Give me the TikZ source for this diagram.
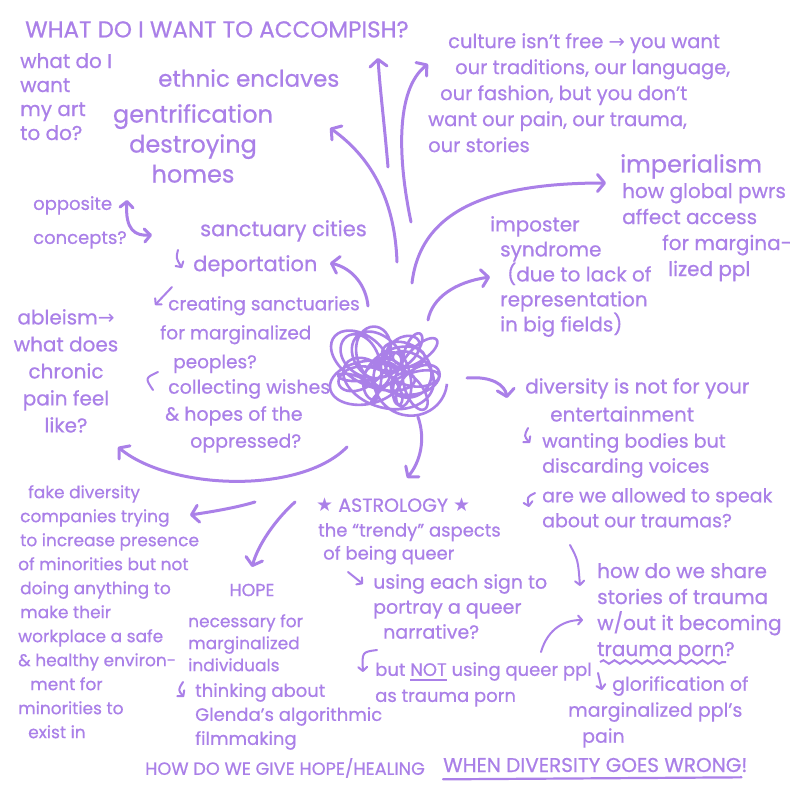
\documentclass[tikz,border=0pt]{standalone}
\usepackage{fontspec}
\setmainfont{Poppins}[FakeBold=0.6]
\newfontfamily\symfont{DejaVu Sans}
\usetikzlibrary{arrows.meta,decorations.pathmorphing,calc}
\definecolor{ink}{RGB}{170,128,232}
\newcommand\hsz[2]{\fontsize{#1}{#2}\selectfont}
\newcommand\ulbar[1]{\setbox0\hbox{#1}\rlap{\raisebox{-5pt}{\rule{\wd0}{1.8pt}}}\box0{}}
\begin{document}
\begin{tikzpicture}[x=1pt, y=-1pt,
  note/.style={text=ink, inner sep=0pt, anchor=north west, align=left},
  pen/.style={draw=ink, line width=3pt, line cap=round, line join=round, -{Straight Barb[round,length=7pt,width=17pt]}},
  tick/.style={pen, line width=2pt, -{Straight Barb[round,length=4pt,width=9pt]}}]
  \useasboundingbox[fill=white] (0,0) rectangle (800,800);
  % left column
  \node[note, font=\hsz{23}{26}] (goal) at (25,21) {WHAT DO I WANT TO ACCOMPISH?};
  \node[note, font=\hsz{20}{24}] (artq) at (20,53) {what do I\\want\\my art\\to do?};
  \node[note, font=\hsz{23}{28}] (enclave) at (158,69) {ethnic enclaves};
  \node[note, font=\hsz{24}{30}, anchor=north, align=center] (gentri) at (193,104) {gentrification\\destroying\\homes};
  \node[note, font=\hsz{18}{34}] (opp) at (33,196) {opposite\\concepts?};
  \node[note, font=\hsz{21}{25}] (sanct) at (200,220) {sanctuary cities};
  \node[note, font=\hsz{21}{25}] (deport) at (193,255) {deportation};
  \node[note, font=\hsz{18.5}{29}] (create) at (160,296) {\hspace*{8pt}creating sanctuaries\\for marginalized\\\hspace*{13pt}peoples?};
  \node[note, font=\hsz{19}{27}] (wish) at (165,379) {\hspace*{3pt}collecting wishes\\\& hopes of the\\\hspace*{25pt}oppressed?};
  \node[note, font=\hsz{20}{27}, anchor=north, align=center] (ableism) at (66,309) {ableism{\symfont →}\\what does\\chronic\\pain feel\\like?};
  % right column
  \node[note, font=\hsz{19.5}{26}] (culture) at (428,33) {\hspace*{20pt}culture isn't free {\symfont →} you want\\\hspace*{27pt}our traditions, our language,\\\hspace*{12pt}our fashion, but you don't\\want our pain, our trauma,\\our stories};
  \node[note, font=\hsz{24}{28}] (imper) at (620,154) {imperialism};
  \node[note, font=\hsz{20}{26}] (access) at (622,183) {how global pwrs\\affect access\\\hspace*{40pt}for margina-\\\hspace*{46pt}lized ppl};
  \node[note, font=\hsz{20}{25}] (imposter) at (490,216) {imposter\\\hspace*{10pt}syndrome\\\hspace*{17pt}(due to lack of\\\hspace*{10pt}representation\\\hspace*{10pt}in big fields)};
  \node[note, font=\hsz{20}{28}] (enter) at (525,378) {diversity is not for your\\\hspace*{25pt}entertainment};
  \node[note, font=\hsz{19}{25}] (bodies) at (542,433) {wanting bodies but\\discarding voices};
  \node[note, font=\hsz{19}{25}] (speak) at (542,488) {are we allowed to speak\\about our traumas?};
  % middle
  \node[note, font=\hsz{19}{22}, anchor=west] (astro) at (316,505) {{\symfont ★} ASTROLOGY {\symfont ★}};
  \node[note, font=\hsz{18}{23}] (trendy) at (318,523) {the ``trendy'' aspects\\\hspace*{5pt}of being queer};
  \node[note, font=\hsz{19}{25}] (sign) at (373,574) {using each sign to\\portray a queer\\\hspace*{10pt}narrative?};
  \node[note, font=\hsz{18}{26}] (butnot) at (375,662) {but \ulbar{NOT} using queer ppl\\as trauma porn};
  \node[note, font=\hsz{20}{26}] (share) at (597,563) {how do we share\\stories of trauma\\w/out it becoming\\trauma porn?};
  \node[note, font=\hsz{19}{26}] (glory) at (568,676) {\hspace*{44pt}glorification of\\marginalized ppl's\\\hspace*{14pt}pain};
  % bottom left
  \node[note, font=\hsz{17}{24}] (fake) at (18,485) {\hspace*{10pt}fake diversity\\\hspace*{2pt}companies trying\\\hspace*{2pt}to increase presence\\of minorities but not\\\hspace*{2pt}doing anything to\\\hspace*{2pt}make their\\workplace a safe\\\& healthy environ-\\\hspace*{12pt}ment for\\minorities to\\\hspace*{10pt}exist in};
  \node[note, font=\hsz{17.5}{22}, anchor=center] (hope) at (252,590) {HOPE};
  \node[note, font=\hsz{17}{22}] (need) at (188,614) {necessary for\\marginalized\\individuals};
  \node[note, font=\hsz{18}{24}] (glenda) at (195,683) {thinking about\\Glenda's algorithmic\\filmmaking};
  \node[note, font=\hsz{17.7}{22}, anchor=west] (heal) at (145,768) {HOW DO WE GIVE HOPE/HEALING};
  \node[note, font=\hsz{20}{22}, anchor=west] (wrong) at (443,765) {WHEN DIVERSITY GOES WRONG!};
  % the knot in the middle
  \coordinate (core) at (388,371);
  \draw[ink, line width=2.6pt] plot[smooth, samples=720, domain=0:7200, variable=\t]
    ({388+30*cos(0.31*\t)+8*cos(0.71*\t+30)+22*cos(\t)}, {371+20*sin(0.43*\t+40)+6*sin(0.9*\t)+19*sin(\t)});
  % big arrows out of the knot
  \draw[pen] (388,167) .. controls (384,120) and (380,90) .. (378,58);
  \draw[pen] (411,222) .. controls (398,160) and (395,90) .. (428,64);
  \draw[pen] (397,262) .. controls (395,205) and (375,160) .. (330,128);
  \draw[pen] (368,306) .. controls (366,285) and (352,268) .. (330,263);
  \draw[pen] (412,283) .. controls (420,215) and (480,183) .. (606,183);
  \draw[pen] (428,320) .. controls (432,298) and (455,282) .. (490,277);
  \draw[pen] (467,378) .. controls (492,376) and (505,385) .. (507,398);
  \draw[pen] (418,417) .. controls (426,440) and (420,462) .. (407,478);
  \draw[pen] (295,502) .. controls (275,520) and (258,545) .. (252,567);
  \draw[pen] (255,502) .. controls (235,508) and (210,512) .. (190,515);
  \draw[pen] (347,447) .. controls (300,495) and (170,490) .. (118,447);
  \draw[pen, {Straight Barb[round,length=6pt,width=13pt]}-{Straight Barb[round,length=6pt,width=13pt]}]
    (127,200) .. controls (125,230) and (135,236) .. (152,235);
  % little arrows
  \draw[tick] (178,250) .. controls (176,258) .. (182,268);
  \draw[tick] (172,287) -- (155,305);
  \draw[ink, line width=2pt, line cap=round] (158,372) .. controls (145,378) .. (153,390);
  \draw[tick] (528,428) .. controls (524,436) .. (530,443);
  \draw[tick] (535,493) .. controls (527,497) .. (529,507);
  \draw[tick] (570,545) .. controls (578,560) .. (580,586);
  \draw[tick] (541,652) .. controls (548,628) and (565,620) .. (583,620);
  \draw[tick] (598,673) -- (602,690);
  \draw[tick] (348,572) -- (363,584);
  \draw[tick] (377,650) .. controls (362,652) .. (363,672);
  \draw[tick] (183,682) .. controls (178,690) .. (184,697);
  % underlines
  \draw[ink, line width=2pt, decorate, decoration={snake, segment length=11pt, amplitude=1.8pt}] (600,662) -- (726,662);
  \draw[ink, line width=2.2pt, line cap=round] ($(wrong.south west)+(0,7)$) -- ($(wrong.south east)+(-6,5)$);
\end{tikzpicture}
\end{document}
